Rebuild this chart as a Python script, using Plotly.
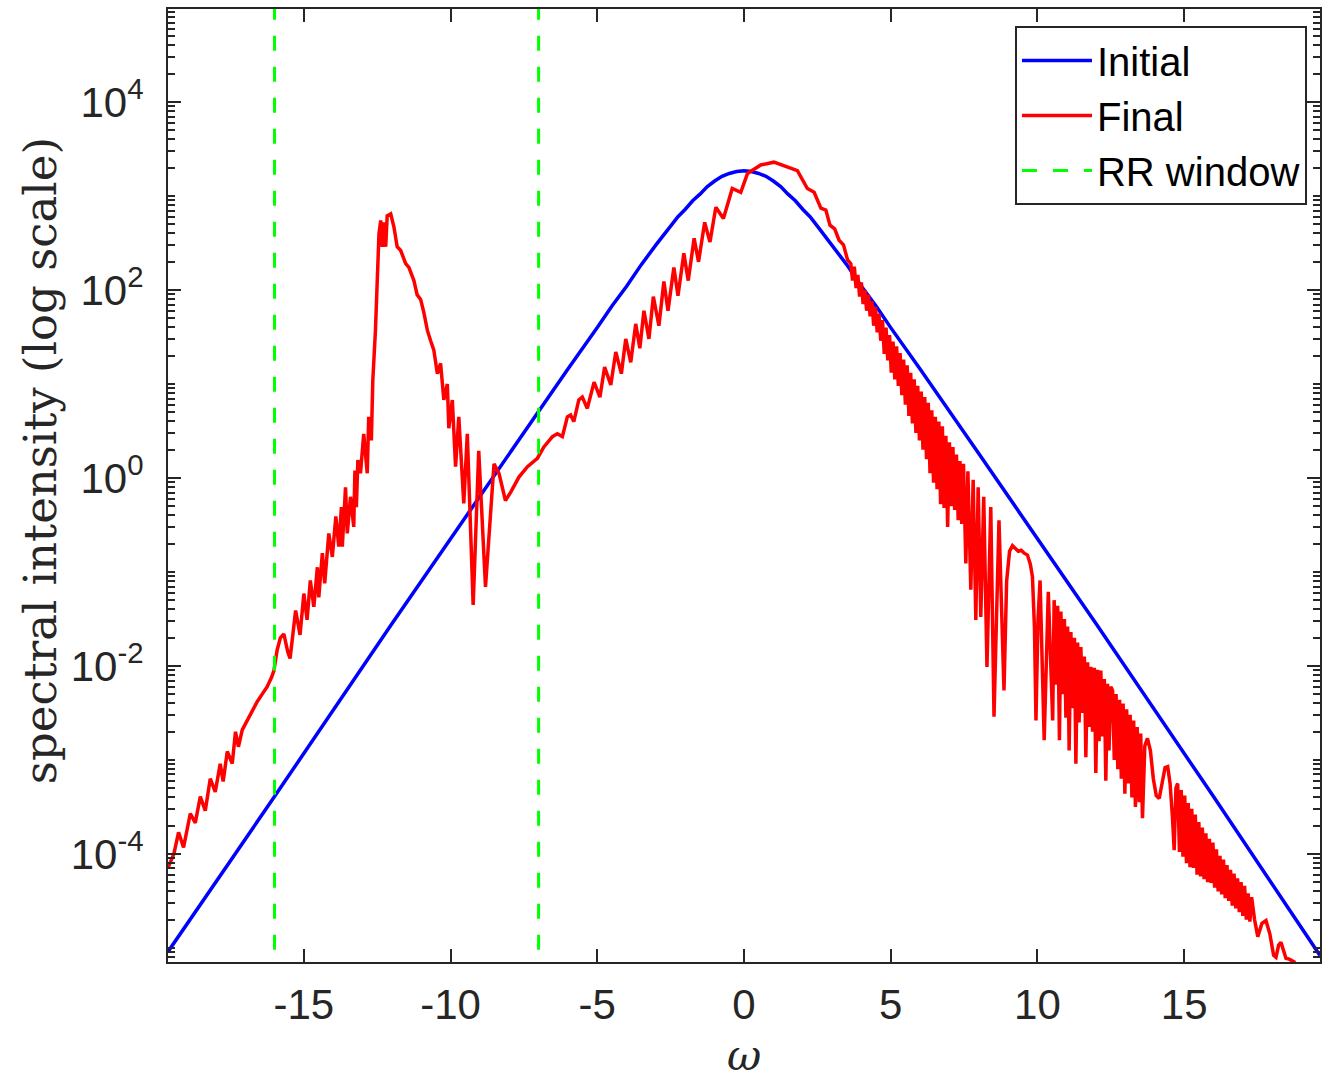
import plotly.graph_objects as go

# ---------------- data ----------------
# Initial spectrum: omega and log10(intensity)
omega_initial = [-19.63, -16.0, -12.0, -8.0, -6.0, -5.0, -4.5, -4.0, -3.5, -3.0, -2.5, -2.25, -2.0,
                 -1.75, -1.5, -1.25, -1.0, -0.75, -0.5, -0.25, 0.0, 0.25, 0.5, 0.75, 1.0, 1.25,
                 1.5, 1.75, 2.0, 2.25, 2.5, 3.0, 3.5, 4.0, 4.5, 5.0, 6.0, 8.0, 12.0, 16.0, 19.63]
log_initial = [-5.04, -3.39, -1.55, 0.26, 1.16, 1.60, 1.83, 2.04, 2.27, 2.48, 2.68, 2.78, 2.86,
               2.95, 3.02, 3.10, 3.16, 3.21, 3.24, 3.26, 3.27, 3.26, 3.24, 3.21, 3.16, 3.10,
               3.02, 2.95, 2.86, 2.78, 2.68, 2.48, 2.27, 2.04, 1.83, 1.60, 1.16, 0.26, -1.55, -3.39, -5.08]

# Final spectrum: omega and log10(intensity)
omega_final = [
    -19.62, -19.43, -19.27, -19.10, -18.87, -18.70, -18.53, -18.36, -18.19, -18.02, -17.85, -17.75,
    -17.61, -17.44, -17.33, -17.23, -17.10, -16.93, -16.76, -16.59, -16.42, -16.25, -16.10, -16.02,
    -15.91, -15.80, -15.68, -15.55, -15.47, -15.28, -15.13, -15.00, -14.89, -14.78, -14.66, -14.54,
    -14.49, -14.37, -14.29, -14.15, -14.03, -13.91, -13.81, -13.72, -13.69, -13.58, -13.52, -13.41,
    -13.30, -13.26, -13.21, -13.16, -13.07, -12.96, -12.84, -12.79, -12.70, -12.65, -12.56, -12.50,
    -12.44, -12.38, -12.33, -12.27, -12.21, -12.16, -12.04, -11.93, -11.82, -11.70, -11.53, -11.42,
    -11.25, -11.14, -11.02, -10.91, -10.79, -10.68, -10.57, -10.45, -10.34, -10.23, -10.11, -10.06,
    -9.94, -9.83, -9.72, -9.55, -9.43, -9.23, -9.04, -8.81, -8.52, -8.35, -8.13, -7.95,
    -7.67, -7.38, -7.04, -6.82, -6.53, -6.36, -6.19, -6.02, -5.91, -5.80, -5.63, -5.51,
    -5.34, -5.11, -4.91, -4.75, -4.54, -4.37, -4.18, -4.03, -3.86, -3.69, -3.55, -3.41,
    -3.24, -3.09, -2.90, -2.73, -2.59, -2.39, -2.25, -2.05, -1.90, -1.70, -1.55, -1.34,
    -1.16, -0.96, -0.70, -0.40, -0.11, 0.12, 0.57, 1.02, 1.48, 1.82, 2.16, 2.39,
    2.62, 2.79, 2.93, 3.09, 3.24, 3.39, 3.53, 3.64,
    3.70, 3.76, 3.82, 3.88, 3.94, 4.00, 4.06, 4.12, 4.18, 4.24, 4.30, 4.36,
    4.42, 4.48, 4.54, 4.60, 4.66, 4.72, 4.78, 4.84, 4.90, 4.96, 5.02, 5.08,
    5.14, 5.20, 5.26, 5.32, 5.38, 5.44, 5.50, 5.56, 5.62, 5.68, 5.74, 5.80,
    5.86, 5.92, 5.98, 6.04, 6.10, 6.16, 6.22, 6.28, 6.34, 6.40, 6.46, 6.52,
    6.58, 6.64, 6.70, 6.76, 6.82, 6.88, 6.94, 7.00, 7.06, 7.12, 7.18, 7.24,
    7.30, 7.36, 7.42, 7.48, 7.56, 7.63, 7.73, 7.81, 7.90, 7.98, 8.07, 8.17,
    8.28, 8.41, 8.52, 8.69, 8.86, 8.95, 9.05, 9.15, 9.25, 9.35, 9.45, 9.55,
    9.66, 9.76, 9.83, 9.90, 9.95, 10.02, 10.09, 10.23, 10.37, 10.52, 10.57, 10.63,
    10.69, 10.75, 10.80, 10.86, 10.92, 10.97, 11.03, 11.08, 11.14, 11.20, 11.26, 11.31,
    11.37, 11.42, 11.48, 11.54, 11.60, 11.65, 11.71, 11.76, 11.82, 11.88, 11.94, 11.99,
    12.05, 12.10, 12.16, 12.22, 12.28, 12.33, 12.39, 12.44, 12.50, 12.56, 12.62, 12.68,
    12.74, 12.80, 12.86, 12.92, 12.98, 13.04, 13.10, 13.16, 13.22, 13.28, 13.34, 13.40,
    13.47, 13.52, 13.58, 13.66, 13.75, 13.85, 13.95, 14.05, 14.15, 14.25, 14.35, 14.44,
    14.52, 14.60, 14.66, 14.72, 14.78, 14.84, 14.90, 14.96, 15.02, 15.08, 15.14, 15.20,
    15.26, 15.32, 15.38, 15.44, 15.50, 15.56, 15.62, 15.68, 15.74, 15.80, 15.86, 15.92,
    15.98, 16.04, 16.10, 16.16, 16.22, 16.28, 16.34, 16.40, 16.46, 16.52, 16.58, 16.64,
    16.70, 16.76, 16.82, 16.88, 16.94, 17.00, 17.06, 17.12, 17.18, 17.24, 17.30, 17.40,
    17.51, 17.65, 17.79, 17.92, 18.05, 18.13, 18.22, 18.30, 18.40, 18.47, 18.58, 18.75,
    18.85,
]
log_final = [
    -4.14, -4.00, -3.77, -3.93, -3.57, -3.67, -3.39, -3.54, -3.20, -3.34, -3.04, -3.23,
    -2.91, -3.04, -2.70, -2.86, -2.68, -2.58, -2.47, -2.38, -2.30, -2.22, -2.12, -2.05,
    -1.83, -1.70, -1.66, -1.85, -1.92, -1.41, -1.67, -1.23, -1.51, -1.09, -1.37, -0.95,
    -1.27, -0.80, -1.12, -0.59, -0.84, -0.41, -0.73, -0.31, -0.73, -0.10, -0.59, -0.20,
    -0.52, 0.08, -0.31, 0.19, 0.05, 0.47, 0.05, 0.65, 0.40, 1.04, 1.57, 2.07,
    2.60, 2.74, 2.46, 2.72, 2.46, 2.79, 2.81, 2.67, 2.46, 2.42, 2.28, 2.24,
    2.10, 1.95, 1.90, 1.76, 1.57, 1.46, 1.36, 1.11, 1.22, 0.83, 1.00, 0.53,
    0.83, 0.12, 0.65, -0.27, 0.47, -1.35, 0.29, -1.16, 0.15, 0.05, -0.24, -0.15,
    0.01, 0.12, 0.21, 0.33, 0.44, 0.47, 0.44, 0.65, 0.67, 0.60, 0.83, 0.86,
    0.74, 1.02, 0.86, 1.18, 0.99, 1.34, 1.11, 1.48, 1.23, 1.64, 1.38, 1.78,
    1.48, 1.93, 1.62, 2.09, 1.78, 2.24, 1.94, 2.39, 2.10, 2.55, 2.30, 2.72,
    2.51, 2.88, 2.76, 3.08, 3.04, 3.24, 3.33, 3.36, 3.31, 3.27, 3.08, 3.04,
    2.87, 2.85, 2.69, 2.65, 2.53, 2.48, 2.32, 2.28,
    2.10, 2.25, 2.02, 2.16, 1.93, 2.08, 1.85, 2.00, 1.78, 1.95, 1.72, 1.88,
    1.62, 1.82, 1.55, 1.75, 1.46, 1.68, 1.32, 1.60, 1.25, 1.52, 1.12, 1.45,
    1.05, 1.40, 0.98, 1.33, 0.88, 1.26, 0.78, 1.20, 0.66, 1.12, 0.58, 1.05,
    0.48, 0.98, 0.40, 0.92, 0.30, 0.86, 0.20, 0.80, 0.05, 0.72, -0.05, 0.65,
    -0.12, 0.60, -0.28, 0.55, -0.32, 0.45, -0.52, 0.38, -0.30, 0.33, -0.34, 0.25,
    -0.45, 0.18, -0.49, 0.15, -0.91, 0.07, -1.19, -0.02, -1.51, -0.10, -1.48, -0.20,
    -2.01, -0.31, -2.54, -0.45, -2.26, -1.10, -0.78, -0.72, -0.75, -0.78, -0.77, -0.80,
    -0.82, -0.92, -1.05, -1.60, -2.58, -1.50, -1.09, -2.79, -1.21, -2.58, -1.30, -2.20,
    -1.36, -2.79, -1.42, -2.30, -1.50, -2.55, -1.58, -2.90, -1.64, -2.45, -1.70, -3.04,
    -1.75, -2.60, -1.80, -2.50, -1.90, -2.97, -1.96, -2.65, -2.01, -2.70, -2.02, -3.14,
    -2.04, -2.80, -2.05, -2.75, -2.14, -3.22, -2.19, -2.90, -2.22, -2.26, -3.00, -2.30,
    -3.10, -2.36, -3.20, -2.40, -3.36, -2.46, -3.25, -2.52, -3.40, -2.58, -3.50, -2.65,
    -3.45, -2.72, -3.62, -2.85, -2.77, -2.90, -3.20, -3.38, -3.41, -3.25, -3.08, -3.07,
    -3.25, -3.60, -3.96, -3.30, -3.25, -3.98, -3.32, -4.03, -3.38, -4.10, -3.46, -4.14,
    -3.52, -4.15, -3.58, -4.22, -3.66, -4.24, -3.72, -4.27, -3.78, -4.30, -3.84, -4.31,
    -3.88, -4.36, -3.95, -4.40, -4.02, -4.43, -4.06, -4.47, -4.12, -4.50, -4.17, -4.55,
    -4.21, -4.58, -4.26, -4.62, -4.30, -4.66, -4.34, -4.70, -4.42, -4.72, -4.46, -4.70,
    -4.88, -4.74, -4.71, -4.85, -5.08, -5.10, -4.97, -4.94, -5.05, -5.11, -5.12, -5.15,
    -5.30,
]

# RR window edges
rr_window = [-16.0, -7.0]

x_tick_vals = [-15, -10, -5, 0, 5, 10, 15]
x_tick_text = ['-15', '-10', '-5', '0', '5', '10', '15']
y_tick_vals = [1e-4, 1e-2, 1e0, 1e2, 1e4]
y_tick_text = ['10<sup>-4</sup>', '10<sup>-2</sup>', '10<sup>0</sup>', '10<sup>2</sup>', '10<sup>4</sup>']

# ---------------- figure ----------------
AX = '#262626'
SANS = 'Liberation Sans, Arial, Helvetica, sans-serif'
SERIF = 'DejaVu Serif, Liberation Serif, serif'

fig = go.Figure()
fig.add_trace(go.Scatter(
    x=omega_initial, y=[10 ** v for v in log_initial], mode='lines', name='Initial',
    line=dict(color='#0000FF', width=3.5)))
fig.add_trace(go.Scatter(
    x=omega_final, y=[10 ** v for v in log_final], mode='lines', name='Final',
    line=dict(color='#FF0000', width=3.5)))

rr_x, rr_y = [], []
for w in rr_window:
    rr_x += [w, w, None]
    rr_y += [1e-7, 1e7, None]
fig.add_trace(go.Scatter(
    x=rr_x, y=rr_y, mode='lines', name='RR window',
    line=dict(color='#00FF00', width=3, dash='15px,16px')))

minor_vals = []
for k in range(-6, 6):
    for m in range(1, 10):
        if m == 1 and k % 2 == 0:
            continue
        minor_vals.append(m * 10.0 ** k)

fig.update_layout(
    width=1337, height=1080,
    margin=dict(l=168, r=17, t=9, b=118),
    plot_bgcolor='white', paper_bgcolor='white',
    font=dict(family=SANS, color=AX),
    legend=dict(
        x=0.9887, y=0.9822, xanchor='right', yanchor='top',
        bgcolor='white', bordercolor=AX, borderwidth=2,
        font=dict(family=SANS, size=40, color='black'),
        itemwidth=70, tracegroupgap=0,
    ),
    xaxis=dict(
        range=[-19.63, 19.63], tickmode='array', tickvals=x_tick_vals, ticktext=x_tick_text,
        ticks='inside', ticklen=13, tickwidth=2, tickcolor=AX,
        showline=True, linewidth=2, linecolor=AX, mirror='allticks',
        showgrid=False, zeroline=False, automargin=False,
        tickfont=dict(family=SANS, size=42, color=AX), ticklabelstandoff=5,
    ),
    yaxis=dict(
        type='log', range=[-5.15, 4.99], tickmode='array', tickvals=y_tick_vals, ticktext=y_tick_text,
        ticks='inside', ticklen=13, tickwidth=2, tickcolor=AX,
        showline=True, linewidth=2, linecolor=AX, mirror='allticks',
        showgrid=False, zeroline=False, automargin=False,
        tickfont=dict(family=SANS, size=42, color=AX), ticklabelstandoff=14,
        minor=dict(tickmode='array', tickvals=minor_vals, ticks='inside', ticklen=7,
                   tickwidth=2, tickcolor=AX, showgrid=False),
    ),
    annotations=[
        dict(text='spectral intensity (log scale)', textangle=-90,
             xref='paper', yref='paper', x=-0.111, y=0.5257, xanchor='center', yanchor='middle',
             showarrow=False, font=dict(family=SERIF, size=45, color=AX)),
        dict(text='<i>ω</i>',
             xref='paper', yref='paper', x=0.5, y=-0.0976, xanchor='center', yanchor='middle',
             showarrow=False, font=dict(family=SERIF, size=42, color=AX)),
    ],
)

fig.write_html('out.html')
